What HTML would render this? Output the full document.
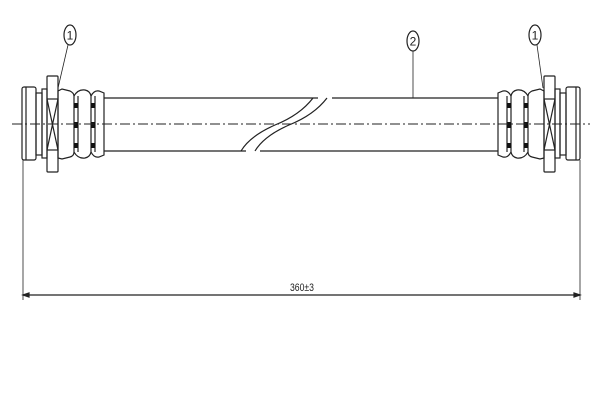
<!DOCTYPE html>
<html><head><style>body{margin:0;background:#fff}svg{display:block}</style></head><body>
<svg width="600" height="400" viewBox="0 0 600 400" xmlns="http://www.w3.org/2000/svg" fill="none" stroke="#222" stroke-width="1.2">
<defs>
<g id="fit">
  <rect x="22" y="87" width="14" height="73" rx="2"/>
  <line x1="26" y1="87" x2="26" y2="160"/>
  <rect x="36" y="93" width="6" height="62"/>
  <rect x="42" y="89" width="5" height="69"/>
  <rect x="47" y="76" width="11" height="96" rx="1"/>
  <line x1="47" y1="99" x2="58" y2="99"/><line x1="47" y1="150" x2="58" y2="150"/>
  <line x1="47" y1="99" x2="58" y2="150"/><line x1="58" y1="99" x2="47" y2="150"/>
  <path d="M58 91 L62 89 L70 91 Q74 93 74 96 L74 152 Q74 156 70 157 L62 159 L58 158 Z"/>
  <path d="M74 96 Q78 89 85 90 Q90 91 91 96 L91 152 Q90 157 85 158 Q78 159 74 152"/>
  <path d="M91 96 Q94 90 99 91 L104 93 L104 155 L99 157 Q94 158 91 152"/>
  <line x1="78" y1="96" x2="78" y2="152"/><line x1="95" y1="96" x2="95" y2="152"/>
  <g fill="#111" stroke="none">
    <rect x="74" y="103" width="4" height="5"/><rect x="74" y="122" width="4" height="6"/><rect x="74" y="143" width="4" height="5"/>
    <rect x="91" y="103" width="4" height="5"/><rect x="91" y="122" width="4" height="6"/><rect x="91" y="143" width="4" height="5"/>
  </g>
</g>
</defs>
<use href="#fit"/>
<use href="#fit" transform="translate(602 0) scale(-1 1)"/>
<!-- hose -->
<path d="M104 98 H318 M104 151 H246"/>
<path d="M332 98 H498 M260 151 H498"/>
<path d="M313 98 Q300 115 275 125 Q250 136 241 151"/>
<path d="M327 98 Q314 115 289 125 Q264 136 255 151"/>
<!-- center line -->
<line x1="12" y1="124" x2="590" y2="124" stroke-dasharray="10 3 2 3" stroke-width="1"/>
<!-- labels -->
<ellipse cx="70" cy="35" rx="6" ry="10"/>
<text x="70" y="39.5" font-family="Liberation Sans, sans-serif" font-size="12" fill="#222" stroke="none" text-anchor="middle">1</text>
<line x1="68" y1="45" x2="58" y2="88" stroke-width="0.8"/>
<ellipse cx="535" cy="35" rx="6" ry="10"/>
<text x="535" y="39.5" font-family="Liberation Sans, sans-serif" font-size="12" fill="#222" stroke="none" text-anchor="middle">1</text>
<line x1="537" y1="45" x2="543" y2="88" stroke-width="0.8"/>
<ellipse cx="413" cy="41" rx="6" ry="10"/>
<text x="413" y="45.5" font-family="Liberation Sans, sans-serif" font-size="12" fill="#222" stroke="none" text-anchor="middle">2</text>
<line x1="413" y1="51" x2="413" y2="98" stroke-width="0.8"/>
<!-- dimension -->
<line x1="23" y1="160" x2="23" y2="300" stroke-width="0.8"/>
<line x1="580" y1="160" x2="580" y2="300" stroke-width="0.8"/>
<line x1="23" y1="295" x2="580" y2="295"/>
<path d="M23 295 l6 -2 v4 z M580 295 l-6 -2 v4 z" fill="#222"/>
<text x="302" y="291" font-family="Liberation Sans, sans-serif" font-size="11" fill="#222" stroke="none" text-anchor="middle" textLength="24" lengthAdjust="spacingAndGlyphs">360±3</text>
</svg>
</body></html>
